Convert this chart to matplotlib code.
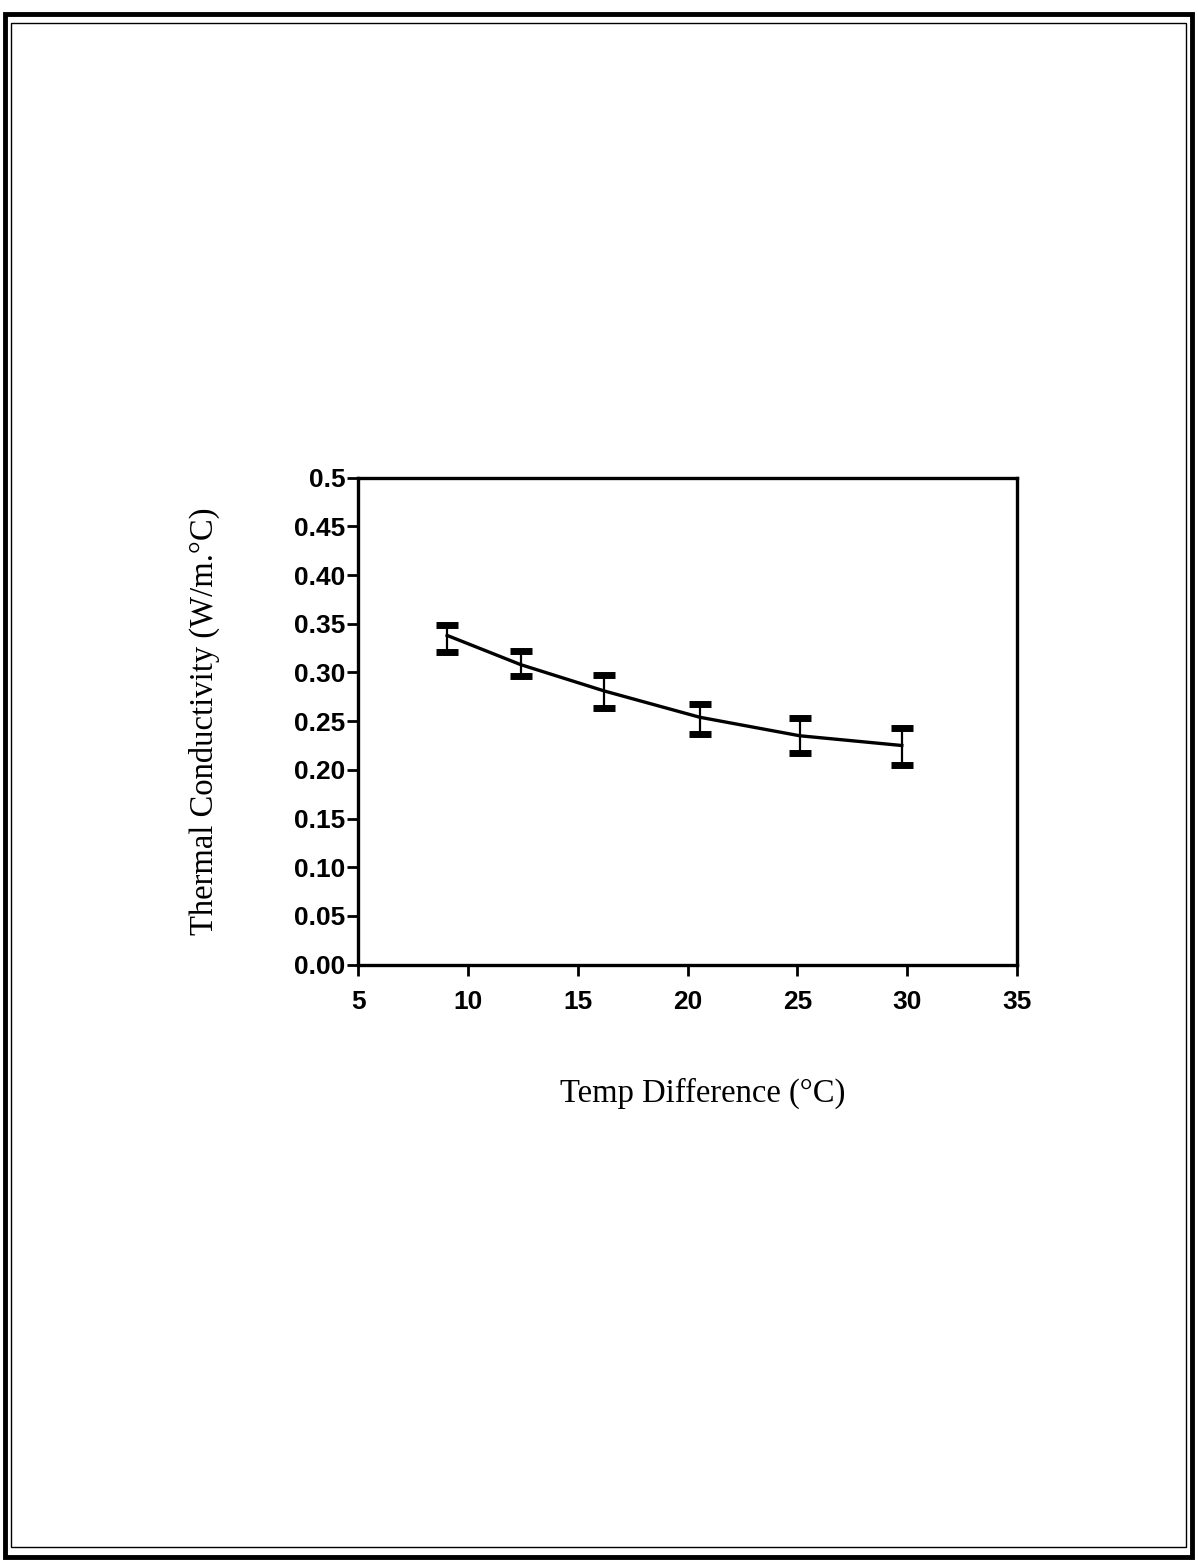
import matplotlib.pyplot as plt
from matplotlib.patches import Rectangle

# --- data ---
temp_diff = [9.05, 12.4, 16.2, 20.55, 25.1, 29.75]
k_upper = [0.349, 0.322, 0.297, 0.268, 0.253, 0.243]
k_lower = [0.321, 0.296, 0.264, 0.237, 0.217, 0.205]
k_curve = [0.338, 0.308, 0.281, 0.254, 0.235, 0.225]

x_ticks = [5, 10, 15, 20, 25, 30, 35]
y_ticks = [0.0, 0.05, 0.10, 0.15, 0.20, 0.25, 0.30, 0.35, 0.40, 0.45, 0.5]
y_labels = ['0.00', '0.05', '0.10', '0.15', '0.20', '0.25', '0.30',
            '0.35', '0.40', '0.45', '0.5']

k_mid = [(u + l) / 2 for u, l in zip(k_upper, k_lower)]
k_err = [(u - l) / 2 for u, l in zip(k_upper, k_lower)]

fig = plt.figure(figsize=(11.98, 15.66), dpi=100)

# page border of the scan (double frame)
fig.patches.append(Rectangle((0.004, 0.006), 0.991, 0.985, transform=fig.transFigure,
                             fill=False, edgecolor='black', linewidth=3.5))
fig.patches.append(Rectangle((0.009, 0.012), 0.981, 0.973, transform=fig.transFigure,
                             fill=False, edgecolor='black', linewidth=1.0))

ax = fig.add_axes([0.299, 0.384, 0.550, 0.311])

ax.plot(temp_diff, k_curve, color='black', linewidth=2.4)
ax.errorbar(temp_diff, k_mid, yerr=k_err, fmt='none', ecolor='black',
            elinewidth=1.6, capsize=8, capthick=5)

ax.set_xlim(5, 35)
ax.set_ylim(0, 0.5)
ax.set_xticks(x_ticks)
ax.set_yticks(y_ticks)
ax.set_yticklabels(y_labels)

for lab in ax.get_xticklabels() + ax.get_yticklabels():
    lab.set_fontfamily('Liberation Sans')
    lab.set_fontsize(19)
    lab.set_fontweight('bold')

ax.tick_params(axis='both', direction='out', length=8, width=2, color='black')
ax.tick_params(axis='y', pad=1)
ax.tick_params(axis='x', pad=10)
for sp in ax.spines.values():
    sp.set_linewidth(2.4)

ax.set_xlabel('Temp Difference (°C)', fontfamily='Liberation Serif', fontsize=23.5)
ax.set_ylabel('Thermal Conductivity (W/m.°C)', fontfamily='Liberation Serif', fontsize=23.5)
ax.xaxis.set_label_coords(0.523, -0.232)
ax.yaxis.set_label_coords(-0.21, 0.5)

fig.savefig('out.png', dpi=100)
